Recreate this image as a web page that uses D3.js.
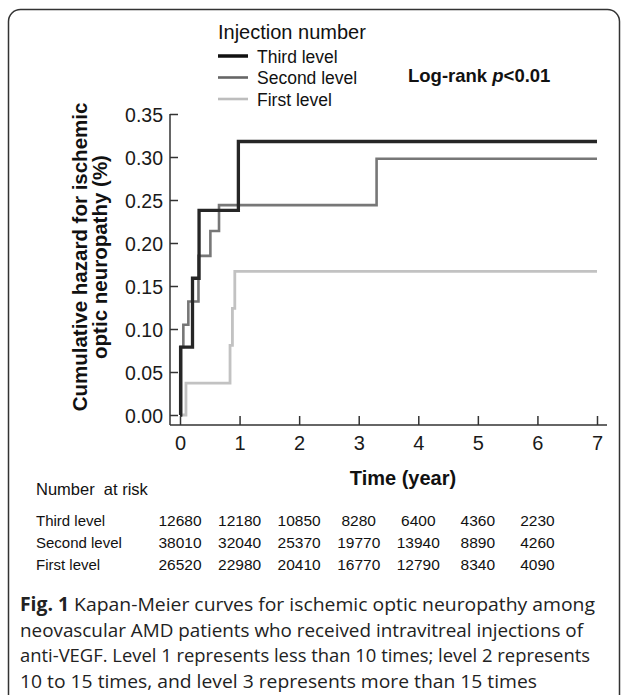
<!DOCTYPE html>
<html>
<head>
<meta charset="utf-8">
<script src="https://cdn.jsdelivr.net/npm/d3@7"></script>
<style>
  html, body { margin: 0; padding: 0; background: #fff; }
  svg { display: block; }
</style>
</head>
<body>
<script>
// ---- data ----
const seriesNames = ["First level", "Second level", "Third level"];
const firstTimes  = [0, 0.10, 0.84, 0.88, 0.92, 7];
const firstHaz    = [0, 0.037, 0.081, 0.124, 0.167, 0.167];
const secondTimes = [0, 0.02, 0.056, 0.14, 0.31, 0.51, 0.655, 3.30, 7];
const secondHaz   = [0, 0.079, 0.105, 0.132, 0.185, 0.214, 0.244, 0.298, 0.298];
const thirdTimes  = [0, 0.01, 0.21, 0.32, 0.98, 7];
const thirdHaz    = [0, 0.079, 0.159, 0.238, 0.318, 0.318];

const xTicks = [0, 1, 2, 3, 4, 5, 6, 7];
const yTicks = [0.00, 0.05, 0.10, 0.15, 0.20, 0.25, 0.30, 0.35];

const riskRows   = ["Third level", "Second level", "First level"];
const riskTimes  = [0, 1, 2, 3, 4, 5, 6];
const riskThird  = [12680, 12180, 10850, 8280, 6400, 4360, 2230];
const riskSecond = [38010, 32040, 25370, 19770, 13940, 8890, 4260];
const riskFirst  = [26520, 22980, 20410, 16770, 12790, 8340, 4090];

const captionLines = [
  ["Fig. 1", " Kapan-Meier curves for ischemic optic neuropathy among"],
  ["", "neovascular AMD patients who received intravitreal injections of"],
  ["", "anti-VEGF. Level 1 represents less than 10 times; level 2 represents"],
  ["", "10 to 15 times, and level 3 represents more than 15 times"]
];
const captionWidths = [575, 563, 570, 517];

// ---- drawing ----
const W = 627, H = 695;
const svg = d3.select("body").append("svg").attr("width", W).attr("height", H);
const FONT = "'Liberation Sans', Arial, sans-serif";

// frame
svg.append("rect").attr("x", 8.5).attr("y", 9.5).attr("width", 611).attr("height", 700)
  .attr("rx", 12).attr("fill", "none").attr("stroke", "#333").attr("stroke-width", 1.5);

const x = d3.scaleLinear().domain([0, 7]).range([180, 597]);
const y = d3.scaleLinear().domain([0, 0.35]).range([415, 114]);
const axisY = 425, axisX = 170;

// axes
const gx = svg.append("g").attr("transform", `translate(0,${axisY})`)
  .call(d3.axisBottom(x).tickValues(xTicks).tickFormat(d3.format("d")).tickSize(-9).tickSizeOuter(0));
gx.select(".domain").remove();
gx.selectAll(".tick line").attr("stroke", "#333").attr("stroke-width", 1.5);
gx.selectAll(".tick text").attr("y", 24.5).attr("dy", 0).attr("font-family", FONT)
  .attr("font-size", 20).attr("fill", "#1a1a1a");
svg.append("line").attr("x1", axisX).attr("x2", x(7) + 10).attr("y1", axisY).attr("y2", axisY)
  .attr("stroke", "#333").attr("stroke-width", 1.5);

const gy = svg.append("g").attr("transform", `translate(${axisX},0)`)
  .call(d3.axisLeft(y).tickValues(yTicks).tickFormat(d3.format(".2f")).tickSize(-8).tickSizeOuter(0));
gy.select(".domain").remove();
gy.selectAll(".tick line").attr("stroke", "#333").attr("stroke-width", 1.5);
gy.selectAll(".tick text").attr("x", -7).attr("dy", "0.36em").attr("font-family", FONT)
  .attr("font-size", 19.5).attr("fill", "#1a1a1a");
svg.append("line").attr("x1", axisX).attr("x2", axisX).attr("y1", y(0.35)).attr("y2", axisY)
  .attr("stroke", "#333").attr("stroke-width", 1.5);

// curves
const line = d3.line().x(d => x(d[0])).y(d => y(d[1])).curve(d3.curveStepAfter);
const curves = [
  { t: firstTimes, v: firstHaz, color: "#c2c2c2", w: 2.8 },
  { t: secondTimes, v: secondHaz, color: "#777777", w: 2.6 },
  { t: thirdTimes, v: thirdHaz, color: "#262626", w: 3.3 }
];
curves.forEach(c => {
  svg.append("path").datum(c.t.map((t, i) => [t, c.v[i]]))
    .attr("d", line).attr("fill", "none").attr("stroke", c.color).attr("stroke-width", c.w);
});

// y-axis title
const yt = svg.append("g").attr("font-family", FONT).attr("font-weight", "bold")
  .attr("font-size", 20.5).attr("fill", "#111").attr("text-anchor", "middle");
yt.append("text").attr("transform", "translate(87,257) rotate(-90)").text("Cumulative hazard for ischemic");
yt.append("text").attr("transform", "translate(107,257) rotate(-90)").text("optic neuropathy (%)");

// x-axis title
svg.append("text").attr("x", 403).attr("y", 485).attr("text-anchor", "middle")
  .attr("font-family", FONT).attr("font-weight", "bold").attr("font-size", 20).attr("fill", "#111")
  .text("Time (year)");

// legend
svg.append("text").attr("x", 218).attr("y", 39).attr("font-family", FONT).attr("font-size", 20)
  .attr("fill", "#111").text("Injection number");
const legendItems = [
  { name: "Third level", color: "#111", w: 3.5 },
  { name: "Second level", color: "#666", w: 2.6 },
  { name: "First level", color: "#bdbdbd", w: 2.6 }
];
const legY = [56, 77.5, 99];
legendItems.forEach((d, i) => {
  svg.append("line").attr("x1", 218).attr("x2", 248).attr("y1", legY[i]).attr("y2", legY[i])
    .attr("stroke", d.color).attr("stroke-width", d.w);
  svg.append("text").attr("x", 257).attr("y", legY[i] + 6.5).attr("font-family", FONT)
    .attr("font-size", 17.5).attr("fill", "#111").text(d.name);
});

// log-rank
const lr = svg.append("text").attr("x", 408).attr("y", 82).attr("font-family", FONT)
  .attr("font-weight", "bold").attr("font-size", 18.5).attr("fill", "#111");
lr.append("tspan").text("Log-rank ");
lr.append("tspan").attr("font-style", "italic").text("p");
lr.append("tspan").text("<0.01");

// number at risk
svg.append("text").attr("x", 36).attr("y", 495).attr("font-family", FONT).attr("font-size", 16.5)
  .attr("fill", "#111").text("Number  at risk").style("white-space", "pre");
const riskData = [riskThird, riskSecond, riskFirst];
const rowY = [526, 548, 570];
riskRows.forEach((r, i) => {
  svg.append("text").attr("x", 36).attr("y", rowY[i]).attr("font-family", FONT)
    .attr("font-size", 15).attr("fill", "#111").text(r);
  riskData[i].forEach((v, j) => {
    svg.append("text").attr("x", x(riskTimes[j])).attr("y", rowY[i]).attr("text-anchor", "middle")
      .attr("font-family", FONT).attr("font-size", 15.5).attr("fill", "#111").text(v);
  });
});

// caption
const capY = [611, 636.5, 662, 687.5];
captionLines.forEach((l, i) => {
  const t = svg.append("text").attr("x", 20).attr("y", capY[i])
    .attr("font-family", "'Open Sans', sans-serif").attr("font-size", 19).attr("fill", "#222")
    .attr("textLength", captionWidths[i]).attr("lengthAdjust", "spacingAndGlyphs")
    .style("white-space", "pre");
  if (l[0]) t.append("tspan").attr("font-weight", "bold").text(l[0]);
  t.append("tspan").text(l[1]);
});
</script>
</body>
</html>
